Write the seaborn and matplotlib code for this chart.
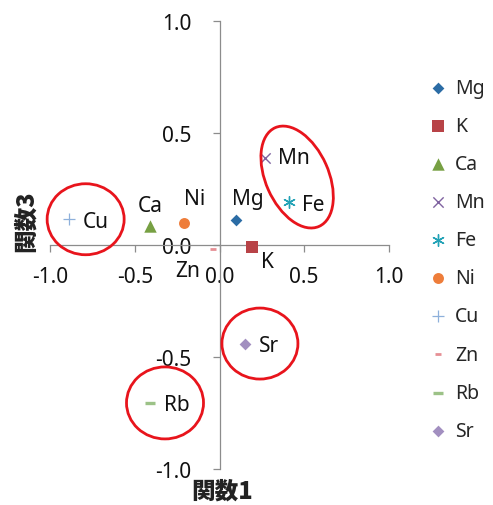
import matplotlib
matplotlib.use("Agg")
import matplotlib.pyplot as plt
import seaborn as sns
from matplotlib.patches import Ellipse
from matplotlib.transforms import ScaledTranslation

# Discriminant scores (function 1 vs function 3) per element
elements = ["Mg", "K", "Ca", "Mn", "Fe", "Ni", "Cu", "Zn", "Rb", "Sr"]
func1 = [0.10, 0.19, -0.41, 0.27, 0.41, -0.21, -0.89, -0.04, -0.41, 0.15]
func3 = [0.11, -0.01, 0.085, 0.39, 0.19, 0.10, 0.115, -0.02, -0.705, -0.44]
tick_values = [-1.0, -0.5, 0.0, 0.5, 1.0]
tick_labels = ["-1.0", "-0.5", "0.0", "0.5", "1.0"]
circled_groups = [["Cu"], ["Mn", "Fe"], ["Sr"], ["Rb"]]

sns.set_style("white")
plt.rcParams["font.family"] = ["Noto Sans", "Noto Sans CJK JP", "DejaVu Sans"]

styles = {
    "Mg": dict(marker="D", color="#2B6CA5", s=36),
    "K":  dict(marker="s", color="#B84347", s=70),
    "Ca": dict(marker="^", color="#77A043", s=80),
    "Mn": dict(marker="x", color="#7F62A0", s=55, linewidth=1.0),
    "Fe": dict(marker=(6, 2, 0), color="#22A2B6", s=70, linewidth=1.0),
    "Ni": dict(marker="o", color="#EE7D3A", s=62),
    "Cu": dict(marker="+", color="#8EB0DB", s=70, linewidth=0.9),
    "Zn": dict(marker="_", color="#E68F95", s=22, linewidth=2.0),
    "Rb": dict(marker="_", color="#9CC287", s=52, linewidth=2.4),
    "Sr": dict(marker="D", color="#A28FC0", s=36),
}
# label placement: (dx, dy) in pixels, horizontal alignment
label_pos = {
    "Mg": (11, 22, "center"), "K": (16, -14, "center"), "Ca": (0, 20, "center"),
    "Mn": (13, 0, "left"), "Fe": (13, -2, "left"), "Ni": (11, 24, "center"),
    "Cu": (14, -2, "left"), "Zn": (-25, -21, "center"), "Rb": (14, -2, "left"),
    "Sr": (14, -2, "left"),
}
# ellipse geometry: (dx, dy, width, height, angle) in pixels
ring_shape = {
    "Cu": (17, 0, 77, 71, 0),
    "Mn": (20, 3, 63, 108, 24),
    "Sr": (15, 0, 76, 71, 0),
    "Rb": (15, 0, 77, 72, 0),
}

fig = plt.figure(figsize=(4.93, 5.06), dpi=100)
ax = fig.add_axes([50 / 493, 36 / 506, 339 / 493, 448 / 506])

for name, x, y in zip(elements, func1, func3):
    st = dict(styles[name])
    marker = st.pop("marker")
    color = st.pop("color")
    s = st.pop("s")
    lw = st.pop("linewidth", 0)
    sns.scatterplot(x=[x], y=[y], marker=marker, color=color, s=s,
                    linewidth=lw, edgecolor=color if lw == 0 else None,
                    ax=ax, label=name, zorder=3)
    dx, dy, ha = label_pos[name]
    ax.annotate(name, (x, y), xytext=(dx, dy), textcoords="offset pixels",
                ha=ha, va="center", fontsize=15, color="#111111")

# red rings around groups
for grp in circled_groups:
    idx = [elements.index(g) for g in grp]
    cx = sum(func1[i] for i in idx) / len(idx)
    cy = sum(func3[i] for i in idx) / len(idx)
    dx, dy, w, h, ang = ring_shape[grp[0]]
    tr = fig.dpi_scale_trans + ScaledTranslation(cx, cy, ax.transData)
    ax.add_patch(Ellipse((dx / 100, dy / 100), w / 100, h / 100, angle=ang,
                         transform=tr, fill=False, edgecolor="#E8141C",
                         linewidth=2.0, zorder=4, clip_on=False))

ax.set_xlim(-1, 1)
ax.set_ylim(-1, 1)
for side in ["top", "right"]:
    ax.spines[side].set_visible(False)
for side in ["left", "bottom"]:
    ax.spines[side].set_position(("data", 0))
    ax.spines[side].set_color("#8C8C8C")
    ax.spines[side].set_linewidth(0.9)
ax.set_xticks(tick_values)
ax.set_xticklabels(tick_labels)
ax.set_yticks(tick_values)
ax.set_yticklabels(tick_labels)
ax.tick_params(axis="both", direction="out", length=5, width=0.9,
               color="#8C8C8C", labelsize=15, labelcolor="#111111")
ax.tick_params(axis="x", bottom=True, pad=10)
ax.tick_params(axis="y", left=True, pad=15)

label_font = dict(family=["Noto Sans CJK JP"], fontsize=17, fontweight="black",
                  color="#222222")
ax.set_xlabel("関数1", **label_font)
ax.set_ylabel("関数3", **label_font)
ax.xaxis.set_label_coords(0.507, -0.02)
ax.yaxis.set_label_coords(-0.035, 0.556)

leg = ax.legend(loc="upper left", bbox_to_anchor=(426 / 493, 1 - 79 / 506),
                bbox_transform=fig.transFigure, frameon=False, fontsize=14,
                handletextpad=0.3, labelspacing=0.93, handlelength=1.2,
                borderaxespad=0, borderpad=0)

fig.savefig("out.png", dpi=100)
